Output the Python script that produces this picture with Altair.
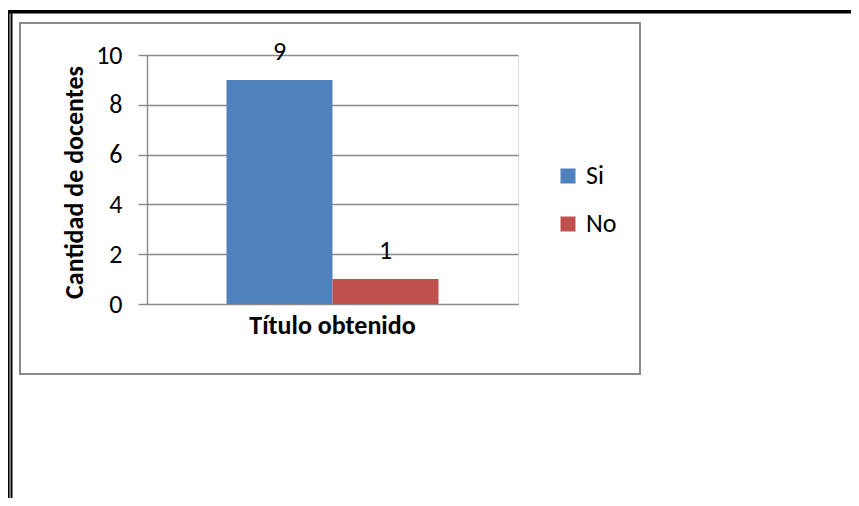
import altair as alt
import pandas as pd

series = ["Si", "No"]
values = [9, 1]
category = "Título obtenido"
colors = ["#4F81BD", "#C0504D"]
y_ticks = [0, 2, 4, 6, 8, 10]

df = pd.DataFrame({"serie": series, "valor": values, "categoria": [category] * len(series)})

FONT = "Calibri, Carlito, Lato"
FS = 26
W, H = 371, 249
PL, PT = 139, 47
SVG_W, SVG_H = 843, 490

x_enc = alt.X(
    "serie:N",
    sort=series,
    scale=alt.Scale(paddingInner=0, paddingOuter=0.75),
    axis=alt.Axis(
        title=category, labels=False, ticks=False, domain=True, domainColor="#898989",
        titleFont=FONT, titleFontSize=FS, titleFontWeight="bold", titleColor="#000000",
        titleX=185, titleY=29, titleBaseline="alphabetic", titleAlign="center",
    ),
)
y_enc = alt.Y(
    "valor:Q",
    scale=alt.Scale(domain=[0, 10], nice=False),
    axis=alt.Axis(
        title="Cantidad de docentes", values=y_ticks, grid=True, gridColor="#898989",
        gridWidth=1.4, domain=True, domainColor="#898989", domainWidth=1.4,
        tickColor="#898989", tickWidth=1.4, tickSize=9,
        labelPadding=16, labelFont=FONT, labelFontSize=FS, labelColor="#000000",
        titleFont=FONT, titleFontSize=FS, titleFontWeight="bold", titleColor="#000000",
        titleAngle=270, titleX=-65, titleY=127, titleBaseline="alphabetic", titleAlign="center",
    ),
)

bars = alt.Chart(df).mark_bar(size=106).encode(
    x=x_enc,
    y=y_enc,
    color=alt.Color(
        "serie:N", sort=series, scale=alt.Scale(domain=series, range=colors),
        legend=alt.Legend(
            title=None, orient="none", legendX=408, legendY=108, symbolType="square",
            symbolSize=225, symbolStrokeWidth=0, labelFont=FONT, labelFontSize=FS,
            labelColor="#000000", labelOffset=5, rowPadding=22, padding=0,
        ),
    ),
)

labels = alt.Chart(df).mark_text(baseline="alphabetic", dy=-20, font=FONT, fontSize=FS, color="#000000").encode(
    x=alt.X("serie:N", sort=series),
    y="valor:Q",
    text="valor:Q",
)

one = alt.Data(values=[{"a": 1}])
box = alt.Chart(one).mark_rect(fill=None, stroke="#898989", strokeWidth=2).encode(
    x=alt.value(20 - 147), x2=alt.value(640 - 147), y=alt.value(23 - 55), y2=alt.value(374 - 55)
)
top_line = alt.Chart(one).mark_rule(color="#000000", strokeWidth=3.5).encode(
    x=alt.value(6 - 147), x2=alt.value(860 - 147), y=alt.value(11.8 - 55)
)
left1 = alt.Chart(one).mark_rule(color="#000000", strokeWidth=1.6).encode(
    x=alt.value(8.8 - 147), y=alt.value(10 - 55), y2=alt.value(506 - 55)
)
left2 = alt.Chart(one).mark_rule(color="#000000", strokeWidth=2).encode(
    x=alt.value(11.5 - 147), y=alt.value(13 - 55), y2=alt.value(506 - 55)
)

chart = alt.layer(box, top_line, left1, left2, bars, labels).properties(
    width=W, height=H,
    autosize=alt.AutoSizeParams(type="none"),
    padding={"left": PL, "top": PT, "right": SVG_W - PL - W, "bottom": SVG_H - PT - H},
).configure_view(stroke=None).configure(background="#ffffff")

chart.save("out.html", embed_options={"renderer": "svg", "actions": False})
